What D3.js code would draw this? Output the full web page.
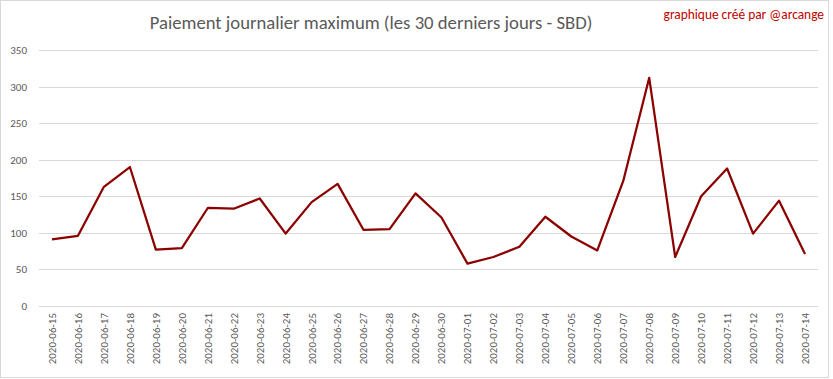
<!DOCTYPE html>
<html>
<head>
<meta charset="utf-8">
<script src="https://cdn.jsdelivr.net/npm/d3@7"></script>
<style>
  body { margin: 0; background: #fff; }
  svg { display: block; }
</style>
</head>
<body>
<div id="chart"></div>
<script>
var width = 833;
var height = 379;

var dates = ["2020-06-15","2020-06-16","2020-06-17","2020-06-18","2020-06-19","2020-06-20",
  "2020-06-21","2020-06-22","2020-06-23","2020-06-24","2020-06-25","2020-06-26","2020-06-27",
  "2020-06-28","2020-06-29","2020-06-30","2020-07-01","2020-07-02","2020-07-03","2020-07-04",
  "2020-07-05","2020-07-06","2020-07-07","2020-07-08","2020-07-09","2020-07-10","2020-07-11",
  "2020-07-12","2020-07-13","2020-07-14"];
var payouts = [91, 96, 163, 190, 77, 79, 134, 133, 147, 99, 142, 167, 104, 105, 154,
  121, 58, 67, 81, 122, 95, 76, 171, 312, 67, 150, 188, 99, 144, 71];
var yTicks = [0, 50, 100, 150, 200, 250, 300, 350];

var margin = {top: 50, right: 15, bottom: 73, left: 39};
var font = "Calibri, Carlito, 'Liberation Sans', sans-serif";

var svg = d3.select("#chart")
    .append("svg")
    .attr("width", width)
    .attr("height", height)
    .attr("font-family", font);

// chart area border
svg.append("rect")
    .attr("x", 0.5).attr("y", 0.5)
    .attr("width", 828).attr("height", 377)
    .attr("fill", "#fff")
    .attr("stroke", "#d9d9d9");

var x = d3.scaleBand()
    .domain(dates)
    .range([margin.left, width - margin.right]);

var y = d3.scaleLinear()
    .domain([0, 350])
    .range([height - margin.bottom, margin.top]);

// gridlines
svg.append("g")
    .selectAll("line")
    .data(yTicks)
    .enter().append("line")
      .attr("x1", margin.left)
      .attr("x2", width - margin.right)
      .attr("y1", function(d) { return Math.round(y(d)) + 0.5; })
      .attr("y2", function(d) { return Math.round(y(d)) + 0.5; })
      .attr("stroke", "#d9d9d9");

// y axis labels
var yAxis = d3.axisLeft(y).tickValues(yTicks).tickSize(0).tickPadding(12);
svg.append("g")
    .attr("transform", "translate(" + margin.left + ",0)")
    .call(yAxis)
    .call(function(g) { g.select(".domain").remove(); })
    .selectAll("text")
      .attr("fill", "#595959")
      .attr("font-size", "11px")
      .attr("font-family", font);

// x axis labels
var xAxis = d3.axisBottom(x).tickSize(0).tickPadding(0);
svg.append("g")
    .attr("transform", "translate(0," + (height - margin.bottom) + ")")
    .call(xAxis)
    .call(function(g) { g.select(".domain").remove(); })
    .selectAll("text")
      .attr("fill", "#595959")
      .attr("font-size", "11px")
      .attr("font-family", font)
      .attr("text-anchor", "end")
      .attr("dy", "0.35em")
      .attr("transform", "translate(0,7) rotate(-90)");

// line
var line = d3.line()
    .x(function(d, i) { return x(dates[i]) + x.bandwidth() / 2; })
    .y(function(d) { return y(d); });

svg.append("path")
    .datum(payouts)
    .attr("fill", "none")
    .attr("stroke", "#8b0000")
    .attr("stroke-width", 2.25)
    .attr("stroke-linejoin", "round")
    .attr("d", line);

// title
svg.append("text")
    .attr("x", 371)
    .attr("y", 29)
    .attr("text-anchor", "middle")
    .attr("fill", "#595959")
    .attr("font-size", "18.7px")
    .text("Paiement journalier maximum (les 30 derniers jours - SBD)");

svg.append("text")
    .attr("x", 824)
    .attr("y", 19)
    .attr("text-anchor", "end")
    .attr("fill", "#c00000")
    .attr("font-size", "13.4px")
    .text("graphique créé par @arcange");
</script>
</body>
</html>
